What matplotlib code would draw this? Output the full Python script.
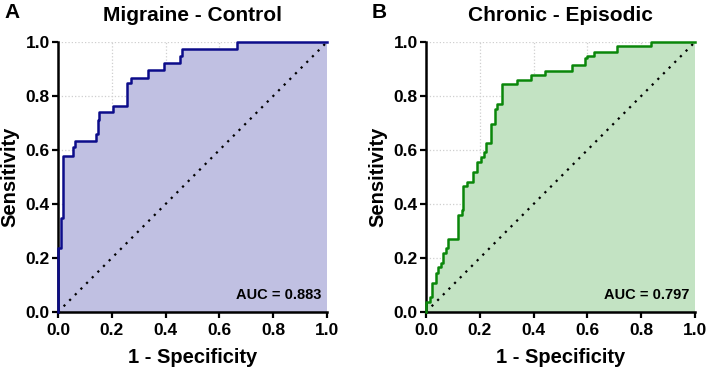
import numpy as np
import matplotlib
matplotlib.use('Agg')
import matplotlib.pyplot as plt

plt.rcParams['font.family'] = ['Liberation Sans', 'DejaVu Sans']
plt.rcParams['font.weight'] = 'bold'

# Panel A: Migraine vs Control (step points: fpr where sensitivity jumps)
fpr_a = [0.0, 0.0, 0.011, 0.017, 0.02, 0.057, 0.063, 0.14, 0.147, 0.153,
         0.205, 0.258, 0.273, 0.334, 0.394, 0.454, 0.462, 0.664, 1.0]
sens_a = [0.0, 0.237, 0.348, 0.45, 0.579, 0.61, 0.633, 0.659, 0.711, 0.74,
          0.763, 0.847, 0.868, 0.895, 0.922, 0.949, 0.974, 1.0, 1.0]

# Panel B: Chronic vs Episodic
fpr_b = [0.0, 0.0, 0.015, 0.021, 0.037, 0.046, 0.056, 0.062, 0.074, 0.083,
         0.12, 0.132, 0.138, 0.153, 0.175, 0.188, 0.206, 0.215, 0.222, 0.243,
         0.256, 0.264, 0.284, 0.34, 0.389, 0.444, 0.542, 0.591, 0.597, 0.623,
         0.709, 0.838, 1.0]
sens_b = [0.0, 0.038, 0.057, 0.109, 0.146, 0.165, 0.18, 0.217, 0.236, 0.269,
          0.359, 0.378, 0.468, 0.483, 0.52, 0.557, 0.575, 0.594, 0.625, 0.696,
          0.752, 0.77, 0.843, 0.859, 0.878, 0.894, 0.915, 0.94, 0.949, 0.964,
          0.985, 1.0, 1.0]

panels = [
    dict(letter='A', title='Migraine - Control', fpr=fpr_a, sens=sens_a,
         auc='AUC = 0.883', line='#0c0c8a', fill='#c0c0e2', left=58),
    dict(letter='B', title='Chronic - Episodic', fpr=fpr_b, sens=sens_b,
         auc='AUC = 0.797', line='#0a870a', fill='#c3e3c3', left=426),
]

W, H = 708, 369
fig = plt.figure(figsize=(W / 100, H / 100), dpi=100)

ticks = [0.0, 0.2, 0.4, 0.6, 0.8, 1.0]
for p in panels:
    ax = fig.add_axes([p['left'] / W, (H - 312) / H, 269 / W, 270 / H])
    x = np.array(p['fpr'])
    y = np.array(p['sens'])
    ax.fill_between(x, y, 0, step='post', color=p['fill'], lw=0, zorder=1)
    ax.step(x, y, where='post', color=p['line'], lw=1.8, zorder=3, clip_on=False)
    ax.plot([0, 1], [0, 1], color='black', ls=(0, (1, 2.6)), lw=1.6, zorder=2)
    ax.set_xlim(0, 1)
    ax.set_ylim(0, 1)
    ax.set_xticks(ticks)
    ax.set_yticks(ticks)
    ax.set_xticklabels([f'{t:.1f}' for t in ticks])
    ax.set_yticklabels([f'{t:.1f}' for t in ticks])
    ax.grid(True, color='#cfcfcf', ls=':', lw=0.9, zorder=0)
    ax.set_axisbelow(True)
    for s in ['top', 'right']:
        ax.spines[s].set_visible(False)
    for s in ['left', 'bottom']:
        ax.spines[s].set_linewidth(1.8)
    ax.tick_params(direction='out', length=4, width=1.6, labelsize=12.5, pad=2)
    ax.tick_params(axis='x', pad=4)
    ax.set_xlabel('1 - Specificity', fontsize=14.5, fontweight='bold', labelpad=7)
    ax.set_ylabel('Sensitivity', fontsize=14.5, fontweight='bold', labelpad=4)
    ax.set_title(p['title'], fontsize=15, fontweight='bold', pad=15)
    ax.text(0.98, 0.063, p['auc'], transform=ax.transAxes, ha='right', va='center',
            fontsize=10.5, fontweight='bold')
    fig.text((p['left'] - 54) / W, 1 - 12 / H, p['letter'], fontsize=15,
             fontweight='bold', ha='left', va='center')

fig.savefig('out.png', dpi=100)
